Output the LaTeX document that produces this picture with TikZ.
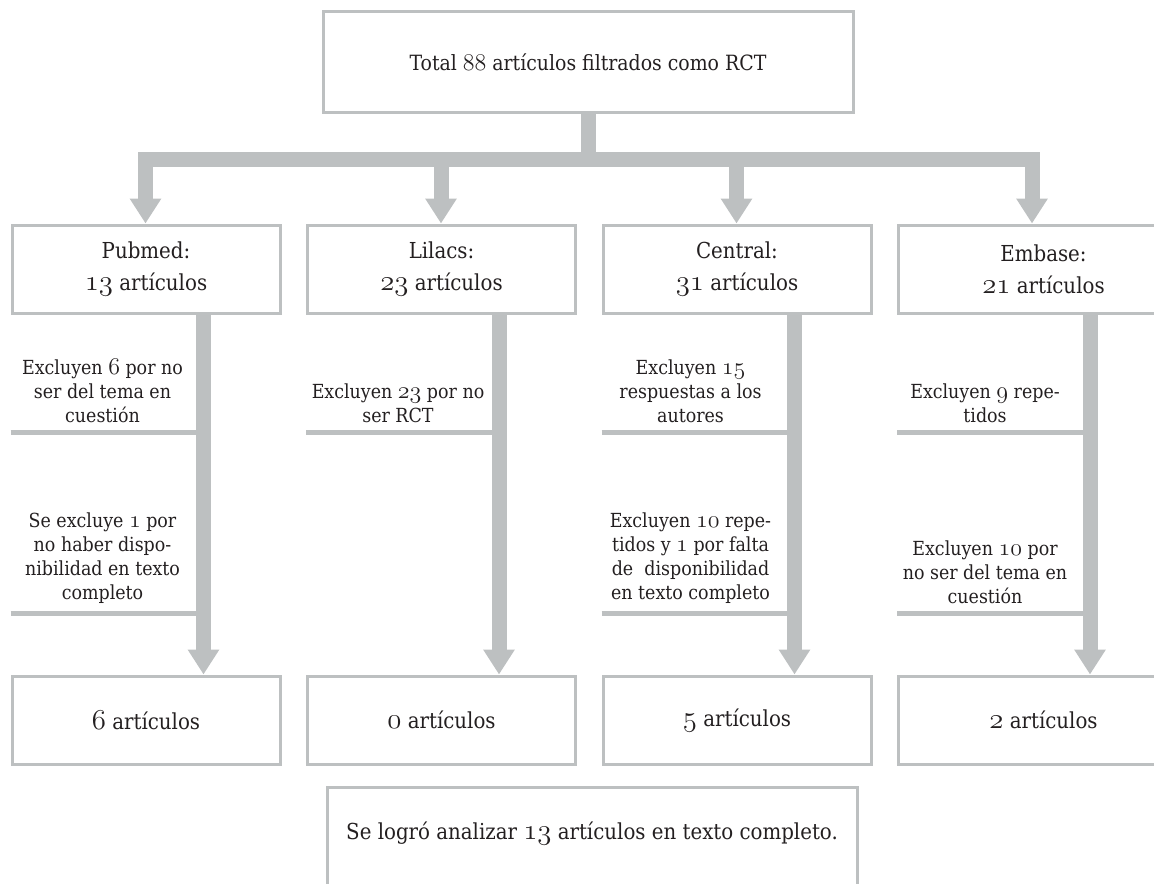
\documentclass[tikz,border=0pt]{standalone}
\usepackage{fontspec}
\setmainfont{DejaVu Serif Condensed}
\usepackage{tikz}
\usetikzlibrary{arrows.meta,positioning,calc}
\definecolor{flowgray}{RGB}{189,192,193}
\definecolor{inkgray}{RGB}{35,31,32}
\makeatletter
\newcommand{\osn}[1]{{\fontsize{\fpeval{1.25*\f@size}}{\f@baselineskip}\usefont{OML}{cmm}{m}{it}#1}}
\makeatother

\begin{document}
\begin{tikzpicture}[
  x=0.5pt, y=-0.5pt,
  node distance=12.25pt,
  box/.style={rectangle, draw=flowgray, line width=1.5pt, minimum width=134pt, minimum height=44pt, align=center, text=inkgray, font=\fontsize{11}{16}\selectfont},
  wide/.style={box, minimum width=265pt},
  note/.style={align=center, text=inkgray, inner sep=0pt, anchor=south, font=\fontsize{9.7}{12}\selectfont},
  flow/.style={draw=flowgray, line width=7.5pt, -{Triangle[width=15pt, length=12.5pt]}},
  fan/.style={draw=flowgray, line width=7.5pt, {Triangle[width=15pt, length=12.5pt]}-{Triangle[width=15pt, length=12.5pt]}},
  trunk/.style={draw=flowgray, line width=7.5pt},
  cut/.style={draw=flowgray, line width=2.5pt}
]
\useasboundingbox (0,0) rectangle (1154,883);

% source
\node[wide, minimum height=50pt, font=\fontsize{10.5}{14}\selectfont] (total) at (588,62) {Total \osn{88} artículos filtrados como RCT};

% databases
\node[box] (pubmed) at (146,269) {Pubmed:\\\osn{13} artículos};
\node[box, right=of pubmed] (lilacs) {Lilacs:\\\osn{23} artículos};
\node[box, right=of lilacs] (central) {Central:\\\osn{31} artículos};
\node[box, right=of central, minimum width=145pt] (embase) {Embase:\\\osn{21} artículos};

% what is left
\node[box, below=180pt of pubmed] (respub) {\osn{6} artículos};
\node[box, below=180pt of lilacs] (reslil) {\osn{0} artículos};
\node[box, below=180pt of central] (rescen) {\osn{5} artículos};
\node[box, below=180pt of embase, minimum width=145pt] (resemb) {\osn{2} artículos};

\node[wide, anchor=north, minimum height=0pt, inner ysep=0pt, text height=26pt, text depth=32pt] (final) at (592,786) {Se logró analizar \osn{13} artículos en texto completo.};

% fan out
\path (total.south) ++(0,46) coordinate (hub);
\foreach \db in {pubmed, lilacs, central, embase}
  \coordinate (\db-in) at ($(\db.north west)+(135,0)$);
\draw[trunk] (total.south) -- (hub);
\draw[fan] (pubmed-in) |- (hub) -| (embase-in);
\draw[flow] (hub -| lilacs-in) -- (lilacs-in);
\draw[flow] (hub -| central-in) -- (central-in);

% stems
\coordinate (cutA) at (0,432);
\coordinate (cutB) at (0,613);
\foreach \db/\res in {pubmed/respub, lilacs/reslil, central/rescen, embase/resemb} {
  \coordinate (\db-stem) at ($(\db.south west)+(193,0)$);
  \draw[flow] (\db-stem) -- (\db-stem |- \res.north);
}

% exclusions
\draw[cut] (pubmed.west |- cutA) -- (pubmed-stem |- cutA);
\draw[cut] (pubmed.west |- cutB) -- (pubmed-stem |- cutB);
\draw[cut] (lilacs.west |- cutA) -- (lilacs-stem |- cutA);
\draw[cut] (central.west |- cutA) -- (central-stem |- cutA);
\draw[cut] (central.west |- cutB) -- (central-stem |- cutB);
\draw[cut] (embase.west |- cutA) -- (embase-stem |- cutA);
\draw[cut] (embase.west |- cutB) -- (embase-stem |- cutB);

\node[note] (pubA) at ($(pubmed.west |- cutA)+(92,-9)$) {Excluyen \osn{6} por no\\ser del tema en\\cuestión};
\node[note] (pubB) at ($(pubmed.west |- cutB)+(92,-9)$) {Se excluye \osn{1} por\\no haber dispo-\\nibilidad en texto\\completo};
\node[note] (lilA) at ($(lilacs.west |- cutA)+(92,-9)$) {Excluyen \osn{23} por no\\ser RCT};
\node[note] (cenA) at ($(central.west |- cutA)+(89,-9)$) {Excluyen \osn{15}\\respuestas a los\\autores};
\node[note] (cenB) at ($(central.west |- cutB)+(89,-9)$) {Excluyen \osn{10} repe-\\tidos y \osn{1} por falta\\de\ \ disponibilidad\\en texto completo};
\node[note] (embA) at ($(embase.west |- cutA)+(88,-9)$) {Excluyen \osn{9} repe-\\tidos};
\node[note] (embB) at ($(embase.west |- cutB)+(88,-9)$) {Excluyen \osn{10} por\\no ser del tema en\\cuestión};
\end{tikzpicture}
\end{document}
